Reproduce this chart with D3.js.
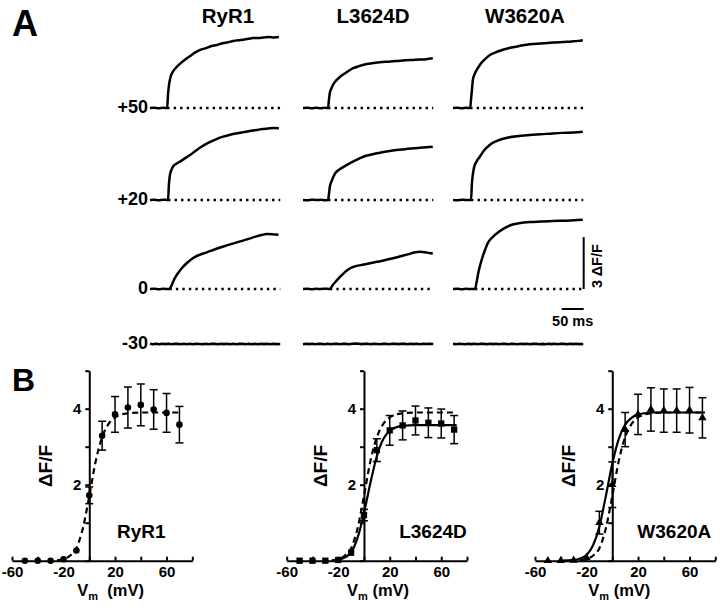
<!DOCTYPE html>
<html><head><meta charset="utf-8">
<script src="https://cdn.jsdelivr.net/npm/d3@7"></script>
<style>
body{margin:0;background:#fff;}
svg{display:block;font-family:"Liberation Sans",Arial,Helvetica,sans-serif;font-weight:bold;}
</style></head><body><svg id="c" width="720" height="610"></svg>
<script>
// ---------------- DATA ----------------
const columns = ["RyR1", "L3624D", "W3620A"];
const rowLabels = ["+50", "+20", "0", "-30"];
// [time ms, dF/F]
const traceRyR1_p50 = [[0,0],[10,0.02],[20,-0.02],[30,0.01],[39,0],[41,0.8],[43,1.3],[45,1.6],[48,1.9],[52,2.1],[58,2.3],[68,2.55],[80,2.8],[91,3.0],[102,3.2],[114,3.36],[126,3.45],[140,3.58],[152,3.64],[165,3.74],[178,3.8],[189,3.87],[200,3.92],[212,3.95],[224,4.0],[234,4.05],[246,4.04],[258,4.08],[270,4.1],[282,4.08],[293,4.1]];
const traceRyR1_p20 = [[0,0],[10,0.01],[20,-0.02],[30,0.02],[41,0],[43,0.9],[45,1.4],[48,1.7],[52,1.92],[60,2.1],[70,2.25],[80,2.42],[91,2.6],[104,2.85],[117,3.08],[130,3.27],[142,3.42],[155,3.56],[166,3.66],[180,3.76],[192,3.83],[205,3.89],[218,3.95],[230,4.0],[243,4.05],[256,4.1],[268,4.13],[280,4.16],[293,4.15]];
const traceRyR1_0 = [[0,0],[10,0.02],[20,-0.02],[30,0.01],[44,0],[48,0.15],[53,0.44],[58,0.7],[64,0.93],[70,1.13],[76,1.31],[86,1.55],[98,1.79],[112,1.97],[129,2.12],[148,2.3],[167,2.46],[186,2.61],[205,2.75],[224,2.9],[242,3.04],[254,3.12],[265,3.18],[278,3.17],[292,3.14]];
const traceL3624D_p50 = [[0,0],[10,0.01],[20,-0.02],[30,0.02],[40,-0.01],[50,0.01],[57,0],[59,0.5],[61,0.87],[64,1.1],[68,1.33],[75,1.58],[84,1.8],[94,1.98],[104,2.15],[114,2.3],[127,2.42],[145,2.54],[160,2.6],[175,2.65],[194,2.68],[214,2.72],[232,2.76],[250,2.78],[266,2.8],[280,2.82],[295,2.87]];
const traceL3624D_p20 = [[0,0],[10,-0.01],[20,0.02],[30,0],[40,0.01],[50,-0.01],[57,0],[59,0.35],[61,0.77],[66,1.15],[73,1.54],[85,1.8],[99,2.02],[118,2.28],[137,2.5],[156,2.63],[175,2.73],[194,2.82],[213,2.89],[232,2.94],[251,2.99],[266,3.02],[280,3.05],[295,3.08]];
const traceL3624D_0 = [[0,0],[10,0.01],[20,-0.02],[30,0.01],[40,0],[50,0.02],[61,0],[67,0.2],[74,0.42],[82,0.64],[94,0.95],[107,1.2],[120,1.32],[135,1.4],[150,1.47],[168,1.57],[185,1.66],[202,1.76],[220,1.88],[238,2.0],[255,2.12],[266,2.15],[277,2.13],[287,2.08],[295,2.05]];
const traceW3620A_p50 = [[0,0],[10,0.02],[20,-0.01],[30,0.01],[39,0],[41,0.5],[43,1.04],[45,1.6],[49,1.95],[54,2.2],[61,2.49],[70,2.75],[84,3.06],[100,3.25],[115,3.38],[130,3.48],[150,3.58],[175,3.69],[200,3.73],[227,3.78],[250,3.82],[270,3.85],[285,3.88],[295,3.92]];
const traceW3620A_p20 = [[0,0],[10,-0.01],[20,0.02],[30,0],[41,0],[43,0.96],[45,1.45],[48,1.9],[54,2.25],[61,2.5],[70,2.85],[84,3.2],[100,3.42],[123,3.6],[150,3.7],[175,3.76],[200,3.8],[227,3.85],[250,3.88],[275,3.9],[295,3.94]];
const traceW3620A_0 = [[0,0],[10,0.01],[20,-0.02],[30,0.01],[40,0],[50,0],[54,0.45],[58,1.0],[62,1.4],[66,1.76],[72,2.2],[80,2.7],[90,3.0],[102,3.26],[116,3.5],[132,3.7],[150,3.8],[175,3.87],[200,3.9],[227,3.93],[255,3.95],[275,3.97],[295,4.0]];
// -30 mV: flat traces
const flatTimes = [0,7,14,21,28,35,42,49,56,63,70,77,84,91,98,105,112,119,126,133,140,147,154,161,168,175,182,189,196,203,210,217,224,231,238,245,252,259,266,273,280,287,296];
const flatRyR1 = [0.01,-0.015,0.012,-0.01,0.015,-0.005,0.01,-0.015,0.012,0.005,-0.012,0.015,-0.01,0.01,-0.012,0.012,0.0,-0.01,0.015,-0.012,0.01,0.005,-0.015,0.012,-0.005,0.01,-0.012,0.012,-0.01,0.005,0.012,-0.01,0.01,-0.012,0.008,-0.01,0.012,-0.008,0.01,-0.01,0.012,-0.005,0.0];
const flatL3624D = [-0.01,0.012,-0.005,0.01,-0.012,0.012,0.005,-0.01,0.015,-0.01,0.01,0.012,-0.012,0.015,0.005,-0.01,0.012,0.02,0.01,-0.005,0.012,0.01,-0.01,0.012,0.0,-0.012,0.01,0.005,-0.01,0.01,0.012,-0.008,0.01,0.015,-0.01,0.012,-0.005,0.01,-0.01,0.012,0.0,0.01,0.0];
const flatW3620A = [0.005,-0.01,0.012,0.0,-0.012,0.01,-0.005,0.012,-0.01,0.01,0.005,-0.012,0.012,-0.005,0.01,-0.01,0.012,0.005,-0.012,0.01,0.0,-0.01,0.012,-0.005,0.01,-0.012,0.005,0.012,-0.01,0.005,-0.01,0.012,-0.008,0.01,-0.012,0.01,0.005,-0.01,0.012,-0.008,0.01,-0.005,0.0];
const stimOnsetRyR1 = [39, 41, 44];
const stimOnsetL3624D = [57, 57, 61];
const stimOnsetW3620A = [39, 41, 50];
const scaleBarDF = 3, scaleBarMs = 50;

// Panel B
const voltages = [-50,-40,-30,-20,-10,0,10,20,30,40,50,60,70];
const meanRyR1 = [0,0,0,0.04,0.27,1.72,3.29,3.85,4.03,4.1,3.98,3.89,3.58];
const semRyR1 = [0,0,0,0,0,0.22,0.38,0.47,0.54,0.55,0.52,0.51,0.48];
const meanL3624D = [0,0,0,0.02,0.21,1.2,2.91,3.43,3.56,3.69,3.63,3.61,3.45];
const semL3624D = [0,0,0,0,0,0.15,0.3,0.39,0.38,0.38,0.39,0.38,0.37];
const meanW3620A = [0,0,0.01,0.08,1.0,2.0,3.45,3.85,3.98,3.95,3.95,3.96,3.76];
const semW3620A = [0,0,0,0,0.3,0.6,0.45,0.53,0.57,0.57,0.57,0.6,0.53];
const fitV_RyR1 = [-25,-20,-15,-10,-5,0,5,10,15,20,25,30,40,50,60,72];
const fitF_RyR1 = [0.01,0.04,0.13,0.33,0.85,1.7,2.62,3.25,3.6,3.77,3.85,3.88,3.9,3.9,3.9,3.9];
const fitV_L3624D = [-25,-20,-15,-10,-5,0,5,10,15,20,25,30,40,50,60,72];
const fitF_L3624D = [0,0.02,0.08,0.22,0.6,1.25,2.05,2.75,3.2,3.42,3.51,3.55,3.57,3.57,3.57,3.57];
const fitV_W3620A = [-40,-30,-25,-20,-15,-10,-5,0,5,10,15,20,25,30,40,50,60,72];
const fitF_W3620A = [0,0.02,0.06,0.15,0.4,0.9,1.7,2.55,3.2,3.58,3.76,3.85,3.88,3.9,3.9,3.9,3.9,3.9];
const xTickValues = [-60,-40,-20,0,20,40,60,80];
const xTickLabels = [-60,-20,20,60];
const yTickValues = [0,1,2,3,4,5];
const yTickLabels = [2,4];

// ---------------- DRAW ----------------
const svg = d3.select("#c");

// Panel A
svg.append("text").attr("x", 12).attr("y", 36).attr("font-size", 36).text("A");
const colX = [150, 303, 453];
const colW = 132;
const rowBase = [108, 200, 289, 344];
const pxPerUnit = 17.3;
const colTitleX = [228, 373, 525];
columns.forEach((c, i) => {
  svg.append("text").attr("x", colTitleX[i]).attr("y", 23).attr("text-anchor", "middle")
    .attr("font-size", 20.5).text(c);
});
rowLabels.forEach((r, i) => {
  svg.append("text").attr("x", 148).attr("y", rowBase[i] + 5).attr("text-anchor", "end")
    .attr("font-size", 18).text(r);
});
const traces = [
  [traceRyR1_p50, traceRyR1_p20, traceRyR1_0, flatTimes.map((t, k) => [t, flatRyR1[k]])],
  [traceL3624D_p50, traceL3624D_p20, traceL3624D_0, flatTimes.map((t, k) => [t, flatL3624D[k]])],
  [traceW3620A_p50, traceW3620A_p20, traceW3620A_0, flatTimes.map((t, k) => [t, flatW3620A[k]])]
];
const onsets = [stimOnsetRyR1, stimOnsetL3624D, stimOnsetW3620A];
const tScales = colX.map(x0 => d3.scaleLinear().domain([0, 300]).range([x0, x0 + colW]));
const yScales = rowBase.map(b => d3.scaleLinear().domain([0, 1]).range([b, b - pxPerUnit]));
traces.forEach((col, ci) => {
  col.forEach((tr, ri) => {
    const tx = tScales[ci], ty = yScales[ri];
    if (ri < 3) {
      svg.append("line").attr("x1", tx(onsets[ci][ri])).attr("x2", tx(296))
        .attr("y1", ty(0)).attr("y2", ty(0))
        .attr("stroke", "#000").attr("stroke-width", 2.4).attr("stroke-dasharray", "2.4,4.1");
    }
    svg.append("path").datum(tr)
      .attr("d", d3.line().x(d => tx(d[0])).y(d => ty(d[1])).curve(ri < 3 ? d3.curveMonotoneX : d3.curveLinear))
      .attr("fill", "none").attr("stroke", "#000").attr("stroke-width", ri < 3 ? 2.5 : 2.6).attr("stroke-linejoin", "round");
  });
});
// scale bars
{
  const tx = tScales[2], ty = yScales[2];
  svg.append("line").attr("x1", tx(297)).attr("x2", tx(297)).attr("y1", ty(0)).attr("y2", ty(scaleBarDF))
    .attr("stroke", "#000").attr("stroke-width", 2);
  svg.append("text").attr("transform", `translate(${tx(297) + 18},${(ty(0) + ty(scaleBarDF)) / 2 + 3}) rotate(-90)`)
    .attr("text-anchor", "middle").attr("font-size", 14.5).text("3 \u0394F/F");
  const yb = ty(0) + 20;
  svg.append("line").attr("x1", tx(297 - scaleBarMs)).attr("x2", tx(297)).attr("y1", yb).attr("y2", yb)
    .attr("stroke", "#000").attr("stroke-width", 2);
  svg.append("text").attr("x", (tx(297 - scaleBarMs) + tx(297)) / 2).attr("y", yb + 17)
    .attr("text-anchor", "middle").attr("font-size", 14.5).text("50 ms");
}

// Panel B
svg.append("text").attr("x", 12).attr("y", 391).attr("font-size", 32).text("B");
const axisXs = [89.3, 364, 612.3];
const charts = [
  {name: "RyR1", mean: meanRyR1, sem: semRyR1, marker: "circle", fits: [{v: fitV_RyR1, f: fitF_RyR1, dash: true}], labelDx: 52, vmDx: -12, vmSpace: "\u00a0\u00a0(mV)"},
  {name: "L3624D", mean: meanL3624D, sem: semL3624D, marker: "square", fits: [{v: fitV_L3624D, f: fitF_L3624D, dash: false}, {v: fitV_RyR1, f: fitF_RyR1, dash: true}], labelDx: 69, vmDx: -17, vmSpace: " (mV)"},
  {name: "W3620A", mean: meanW3620A, sem: semW3620A, marker: "triangle", fits: [{v: fitV_W3620A, f: fitF_W3620A, dash: false}, {v: fitV_RyR1, f: fitF_RyR1, dash: true}], labelDx: 62, vmDx: -24, vmSpace: " (mV)"}
];
const yB = d3.scaleLinear().domain([0, 5]).range([560.7, 370.7]);
charts.forEach((ch, i) => {
  const ax = axisXs[i];
  const x = d3.scaleLinear().domain([-60, 80]).range([ax - 77.3, ax + 103]);
  const g = svg.append("g");
  // fits
  ch.fits.forEach(fit => {
    g.append("path").datum(fit.v.map((v, k) => [v, fit.f[k]]))
      .attr("d", d3.line().x(d => x(d[0])).y(d => yB(d[1])).curve(d3.curveMonotoneX))
      .attr("fill", "none").attr("stroke", "#000").attr("stroke-width", 2.2)
      .attr("stroke-dasharray", fit.dash ? "6,4" : null);
  });
  // axes
  const xa = g.append("g").attr("transform", `translate(0,${yB(0)})`)
    .call(d3.axisBottom(x).tickValues(xTickValues).tickSizeInner(-4).tickSizeOuter(0).tickPadding(6)
      .tickFormat(d => xTickLabels.includes(d) ? String(d) : ""));
  const ya = g.append("g").attr("transform", `translate(${x(0)},0)`)
    .call(d3.axisLeft(yB).tickValues(yTickValues).tickSizeInner(4).tickSizeOuter(0).tickPadding(4)
      .tickFormat(d => yTickLabels.includes(d) ? String(d) : ""));
  [xa, ya].forEach(a => {
    a.selectAll("path,line").attr("stroke", "#000").attr("stroke-width", 2);
    a.selectAll("text").attr("font-size", 15).attr("font-weight", "bold").attr("fill", "#000")
      .attr("font-family", '"Liberation Sans",Arial,sans-serif');
  });
  // error bars
  voltages.forEach((v, k) => {
    const s = ch.sem[k];
    if (s > 0) {
      const cx = x(v);
      g.append("line").attr("x1", cx).attr("x2", cx).attr("y1", yB(ch.mean[k] - s)).attr("y2", yB(ch.mean[k] + s))
        .attr("stroke", "#000").attr("stroke-width", 1.5);
      [ch.mean[k] - s, ch.mean[k] + s].forEach(e => {
        g.append("line").attr("x1", cx - 4).attr("x2", cx + 4).attr("y1", yB(e)).attr("y2", yB(e))
          .attr("stroke", "#000").attr("stroke-width", 1.5);
      });
    }
  });
  // markers
  const sym = ch.marker === "circle" ? d3.symbolCircle : ch.marker === "square" ? d3.symbolSquare : d3.symbolTriangle;
  const size = ch.marker === "circle" ? 34 : ch.marker === "square" ? 40 : 30;
  voltages.forEach((v, k) => {
    g.append("path").attr("d", d3.symbol().type(sym).size(size)())
      .attr("transform", `translate(${x(v)},${yB(ch.mean[k])})`).attr("fill", "#000");
  });
  // labels
  g.append("text").attr("transform", `translate(${ax - 37},${466}) rotate(-90)`)
    .attr("text-anchor", "middle").attr("font-size", 19).text("\u0394F/F");
  g.append("text").attr("x", ax + ch.labelDx).attr("y", 538).attr("text-anchor", "middle")
    .attr("font-size", 19).text(ch.name);
  const t = g.append("text").attr("x", ax + ch.vmDx).attr("y", 596).attr("font-size", 16.5);
  t.append("tspan").text("V");
  t.append("tspan").attr("dy", 4).attr("font-size", 11).text("m");
  t.append("tspan").attr("dy", -4).text(ch.vmSpace);
});
</script></body></html>
